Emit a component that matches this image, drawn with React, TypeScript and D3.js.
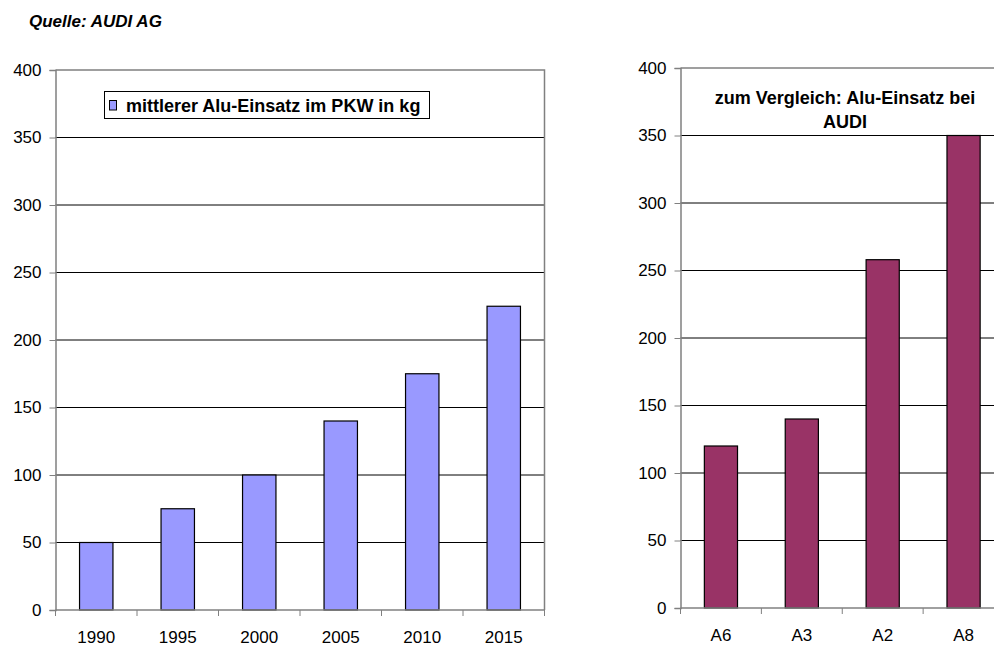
import * as d3 from "d3";
import { useEffect, useRef } from "react";

const years = ["1990", "1995", "2000", "2005", "2010", "2015"];
const aluPkw = [50, 75, 100, 140, 175, 225];
const models = ["A6", "A3", "A2", "A8"];
const aluAudi = [120, 140, 258, 350];
const yTicks = [0, 50, 100, 150, 200, 250, 300, 350, 400];

const FONT = "Arial, 'Liberation Sans', sans-serif";

export default function App() {
    const ref = useRef<SVGSVGElement | null>(null);

    useEffect(() => {
        if (!ref.current) return;
        const svg = d3.select(ref.current);
        svg.selectAll("*").remove();

        const drawPanel = (
            cats: string[],
            vals: number[],
            box: { x0: number; x1: number; y0: number; y1: number },
            fill: string,
        ) => {
            const x = d3.scaleBand().domain(cats).range([box.x0, box.x1]);
            const y = d3.scaleLinear().domain([0, 400]).range([box.y1, box.y0]);
            const g = svg.append("g");

            // gridlines (top one is the gray plot border)
            g.selectAll("line.grid")
                .data(yTicks.filter((t) => t > 0 && t < 400))
                .join("line")
                .attr("x1", box.x0)
                .attr("x2", box.x1)
                .attr("y1", (d) => y(d))
                .attr("y2", (d) => y(d))
                .attr("stroke", "#000")
                .attr("stroke-width", 1);

            g.append("path")
                .attr("d", `M${box.x0},${box.y0}H${box.x1}V${box.y1}`)
                .attr("fill", "none")
                .attr("stroke", "#808080")
                .attr("stroke-width", 1.5);

            // bars
            const bw = x.bandwidth() * 0.41;
            g.selectAll("rect.bar")
                .data(vals)
                .join("rect")
                .attr("x", (_, i) => x(cats[i])! + x.bandwidth() / 2 - bw / 2)
                .attr("y", (d) => y(d))
                .attr("width", bw)
                .attr("height", (d) => y(0) - y(d))
                .attr("fill", fill)
                .attr("stroke", "#000")
                .attr("stroke-width", 1.2);

            // y axis
            const ya = g
                .append("g")
                .attr("transform", `translate(${box.x0},0)`)
                .call(d3.axisLeft(y).tickValues(yTicks).tickSize(6).tickPadding(8));
            ya.select(".domain").attr("stroke", "#808080").attr("stroke-width", 1.5);
            ya.selectAll(".tick line").attr("stroke", "#808080");
            ya.selectAll(".tick text")
                .attr("font-family", FONT)
                .attr("font-size", 17)
                .attr("fill", "#000");

            // x axis
            const xa = g
                .append("g")
                .attr("transform", `translate(0,${box.y1})`)
                .call(d3.axisBottom(x).tickSize(0).tickPadding(21));
            xa.select(".domain").remove();
            xa.selectAll(".tick text")
                .attr("font-family", FONT)
                .attr("font-size", 17)
                .attr("fill", "#000");
            g.append("line")
                .attr("x1", box.x0)
                .attr("x2", box.x1)
                .attr("y1", box.y1)
                .attr("y2", box.y1)
                .attr("stroke", "#808080")
                .attr("stroke-width", 1.5);
            g.selectAll("line.xt")
                .data(d3.range(cats.length + 1))
                .join("line")
                .attr("x1", (i) => box.x0 + i * x.step())
                .attr("x2", (i) => box.x0 + i * x.step())
                .attr("y1", box.y1)
                .attr("y2", box.y1 + 6)
                .attr("stroke", "#808080");
        };

        drawPanel(years, aluPkw, { x0: 55.5, x1: 544.5, y0: 70, y1: 610 }, "#9999FF");
        drawPanel(models, aluAudi, { x0: 680.5, x1: 1004, y0: 68, y1: 608 }, "#993366");

        svg.append("text")
            .attr("x", 29)
            .attr("y", 27)
            .attr("font-family", FONT)
            .attr("font-size", 17)
            .attr("font-weight", "bold")
            .attr("font-style", "italic")
            .text("Quelle: AUDI AG");

        // legend
        const lg = svg.append("g");
        lg.append("rect")
            .attr("x", 104.5)
            .attr("y", 91.5)
            .attr("width", 325)
            .attr("height", 27)
            .attr("fill", "#fff")
            .attr("stroke", "#000");
        lg.append("rect")
            .attr("x", 109.5)
            .attr("y", 100.5)
            .attr("width", 7)
            .attr("height", 9.5)
            .attr("fill", "#9999FF")
            .attr("stroke", "#000");
        lg.append("text")
            .attr("x", 126)
            .attr("y", 112)
            .attr("font-family", FONT)
            .attr("font-size", 18)
            .attr("font-weight", "bold")
            .text("mittlerer Alu-Einsatz im PKW in kg");

        const title = svg
            .append("text")
            .attr("font-family", FONT)
            .attr("font-size", 18)
            .attr("font-weight", "bold")
            .attr("text-anchor", "middle");
        title.append("tspan").attr("x", 845).attr("y", 104).text("zum Vergleich: Alu-Einsatz bei");
        title.append("tspan").attr("x", 845).attr("y", 128).text("AUDI");
    }, []);

    return (
        <svg
            ref={ref}
            width={994}
            height={646}
            style={{ position: "fixed", left: 0, top: 0, background: "#fff" }}
        ></svg>
    );
}
